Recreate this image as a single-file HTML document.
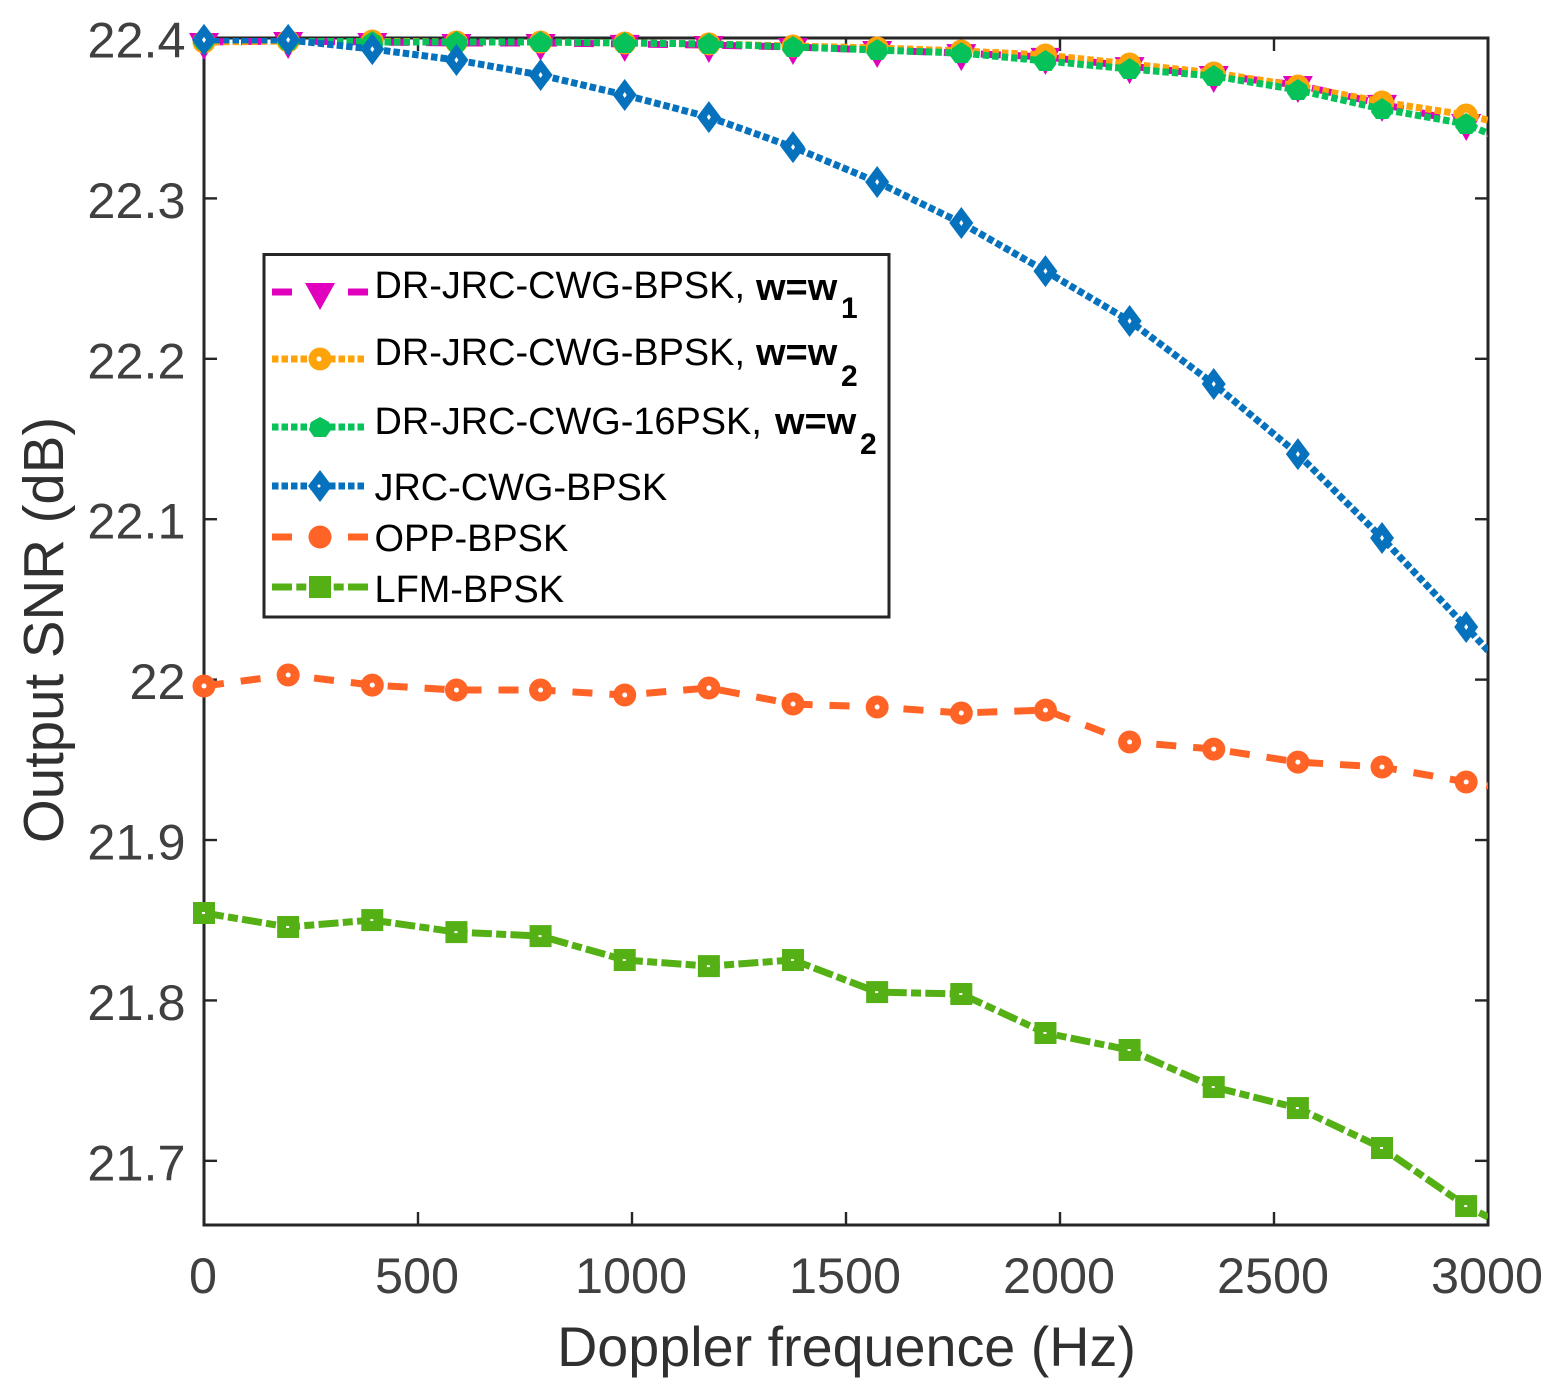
<!DOCTYPE html>
<html lang="en">
<head>
<meta charset="utf-8">
<title>Output SNR vs Doppler frequence</title>
<style>
html,body{margin:0;padding:0;background:#fff;}
svg{display:block;font-family:"Liberation Sans",Arial,sans-serif;}
.tick-text{font-size:50.4px;fill:#404040;}
.axis-title{font-size:55.7px;fill:#303030;}
.y-title{font-size:56.4px;fill:#303030;}
.leg{font-size:37.9px;fill:#000;}
.legb{font-size:38px;fill:#000;font-weight:bold;}
.legs{font-size:30px;fill:#000;font-weight:bold;}
</style>
</head>
<body>
<svg id="chart" xmlns="http://www.w3.org/2000/svg" width="1556" height="1400" viewBox="0 0 1556 1400">
  <defs>
    <clipPath id="plot-clip"><rect x="204" y="38" width="1284" height="1187"/></clipPath>
  </defs>
  <rect x="0" y="0" width="1556" height="1400" fill="#fff"/>
  <g id="axes-layer"></g>
  <g id="series-layer"></g>
  <text class="axis-title" x="846.500" y="1366" text-anchor="middle">Doppler frequence (Hz)</text>
  <text class="y-title" transform="translate(63,630) rotate(-90)" text-anchor="middle">Output SNR (dB)</text>
  <g id="legend">
    <rect x="264" y="254.500" width="625" height="362.500" fill="#fff" stroke="#262626" stroke-width="3"/>
    <g>
      <path d="M272 292H368" stroke="#e000bd" stroke-width="7" stroke-dasharray="20 56 20" fill="none"/>
      <path d="M305 283H335L320 310Z" fill="#e000bd"/>
      <text class="leg" x="374.500" y="298">DR-JRC-CWG-BPSK,</text>
      <text class="legb" x="756" y="300">w=w</text><text class="legs" x="841" y="318">1</text>
    </g>
    <g>
      <path d="M272 359H364" stroke="#ffa30a" stroke-width="7" stroke-dasharray="6.500 3" fill="none"/>
      <circle cx="320" cy="359" r="11.500" fill="#ffa30a"/><circle cx="319" cy="359" r="2.500" fill="#fff"/>
      <text class="leg" x="374.500" y="365">DR-JRC-CWG-BPSK,</text>
      <text class="legb" x="756" y="365">w=w</text><text class="legs" x="841" y="386">2</text>
    </g>
    <g>
      <path d="M272 427H364" stroke="#06c258" stroke-width="7" stroke-dasharray="6.500 3" fill="none"/>
      <path d="M320 417L329 422L331 430L326 437H314L309 430L311 422Z" fill="#06c258"/>
      <text class="leg" x="374.500" y="434">DR-JRC-CWG-16PSK,</text>
      <text class="legb" x="775" y="434">w=w</text><text class="legs" x="860" y="454">2</text>
    </g>
    <g>
      <path d="M272 486H364" stroke="#0672bd" stroke-width="7" stroke-dasharray="6.500 3" fill="none"/>
      <path d="M320 470L332 486L320 502L308 486Z" fill="#0672bd"/>
      <circle cx="319" cy="486" r="1.500" fill="#fff"/>
      <text class="leg" x="374.500" y="500">JRC-CWG-BPSK</text>
    </g>
    <g>
      <path d="M272 537H368" stroke="#ff6326" stroke-width="7" stroke-dasharray="20 56 20" fill="none"/>
      <circle cx="320" cy="537" r="11.500" fill="#ff6326"/>
      <text class="leg" x="374.500" y="551">OPP-BPSK</text>
    </g>
    <g>
      <path d="M272 587H368" stroke="#54b014" stroke-width="7" stroke-dasharray="20 4.300 10 27.400 10 4.300 20" fill="none"/>
      <rect x="309" y="576" width="22" height="22" fill="#54b014"/>
      <text class="leg" x="374.500" y="602">LFM-BPSK</text>
    </g>
  </g>
</svg>
<script>
const frequencies = [0,196.6,393.2,589.8,786.4,983,1179.6,1376.2,1572.8,1769.4,1966,2162.6,2359.2,2555.8,2752.4,2949,3145.6];
const xTickValues = [0,500,1000,1500,2000,2500,3000];
const xTickLabels = ['0','500','1000','1500','2000','2500','3000'];
const yTickValues = [21.7,21.8,21.9,22,22.1,22.2,22.3,22.4];
const yTickLabels = ['21.7','21.8','21.9','22','22.1','22.2','22.3','22.4'];
const drBpskW1 = [22.3975,22.3981,22.3975,22.3969,22.3969,22.3963,22.3956,22.3944,22.3925,22.3906,22.3882,22.3825,22.3769,22.3707,22.3589,22.347,22.3333];
const drBpskW2 = [22.3975,22.3981,22.3981,22.3975,22.3975,22.3969,22.3963,22.395,22.3938,22.3919,22.3894,22.3838,22.3782,22.3701,22.3601,22.352,22.3395];
const dr16pskW2 = [22.3988,22.3988,22.3975,22.3975,22.3975,22.3969,22.3963,22.3944,22.3925,22.3906,22.3857,22.3807,22.3763,22.3676,22.3557,22.3464,22.324];
const jrcBpsk = [22.3988,22.3988,22.3931,22.3863,22.3769,22.3645,22.3507,22.332,22.3102,22.2847,22.2547,22.2236,22.1843,22.1406,22.0883,22.0328,21.9761];
const oppBpsk = [21.996,22.0029,21.9966,21.9935,21.9935,21.9904,21.9948,21.9848,21.9829,21.9792,21.981,21.9611,21.9567,21.9486,21.9455,21.9362,21.9268];
const lfmBpsk = [21.8545,21.8458,21.8501,21.8426,21.8401,21.8252,21.8214,21.8252,21.8052,21.804,21.7797,21.7691,21.746,21.7329,21.708,21.6718,21.6456];

const NS = 'http://www.w3.org/2000/svg';
const LEFT = 204, RIGHT = 1488, TOP = 38, BOTTOM = 1225;
const X_MAX = 3000, Y_MAX = 22.4, Y_MIN = 21.66;
function xScale(v){ return LEFT + (v / X_MAX) * (RIGHT - LEFT); }
function yScale(v){ return TOP + (Y_MAX - v) / (Y_MAX - Y_MIN) * (BOTTOM - TOP); }
function make(tag, attrs, parent){
  const el = document.createElementNS(NS, tag);
  for (const k in attrs) el.setAttribute(k, attrs[k]);
  parent.appendChild(el);
  return el;
}
const axesLayer = document.getElementById('axes-layer');
const seriesLayer = document.getElementById('series-layer');
const AXIS = '#262626';

const plotBox = make('rect', {x:LEFT, y:TOP, width:RIGHT-LEFT, height:BOTTOM-TOP, fill:'none', stroke:AXIS, 'stroke-width':3}, axesLayer);



xTickValues.forEach(function(v, i){
  const x = xScale(v);
  const t1 = make('path', {d:'M'+x+' '+BOTTOM+'V'+(BOTTOM-13), stroke:AXIS, 'stroke-width':2.4}, axesLayer);
  
  
  const t2 = make('path', {d:'M'+x+' '+TOP+'V'+(TOP+13), stroke:AXIS, 'stroke-width':2.4}, axesLayer);
  
  
  const lab = make('text', {x:x-1, y:1293, 'text-anchor':'middle', 'class':'tick-text'}, axesLayer);
  lab.textContent = xTickLabels[i];
  
  
});
yTickValues.forEach(function(v, i){
  const y = yScale(v);
  const t1 = make('path', {d:'M'+LEFT+' '+y+'H'+(LEFT+13), stroke:AXIS, 'stroke-width':2.4}, axesLayer);
  
  
  const t2 = make('path', {d:'M'+RIGHT+' '+y+'H'+(RIGHT-13), stroke:AXIS, 'stroke-width':2.4}, axesLayer);
  
  
  const lab = make('text', {x:185.5, y:y+19.5, 'text-anchor':'end', 'class':'tick-text'}, axesLayer);
  lab.textContent = yTickLabels[i];
  
  
});

function drawTriangle(g, x, y, c){
  make('path', {d:'M'+(x-15)+' '+(y-9)+'H'+(x+15)+'L'+x+' '+(y+18)+'Z', fill:c}, g);
}
function drawCircle(g, x, y, c){
  make('circle', {cx:x, cy:y, r:11.5, fill:c}, g);
  make('circle', {cx:x, cy:y, r:2.5, fill:'#fff'}, g);
}
function drawBlob(g, x, y, c){
  make('path', {d:'M'+x+' '+(y-11)+'L'+(x+9)+' '+(y-5)+'L'+(x+11)+' '+(y+3)+'L'+(x+6)+' '+(y+10)+'H'+(x-6)+'L'+(x-11)+' '+(y+3)+'L'+(x-9)+' '+(y-5)+'Z', fill:c}, g);
}
function drawDiamond(g, x, y, c){
  make('path', {d:'M'+x+' '+(y-16)+'L'+(x+12)+' '+y+'L'+x+' '+(y+16)+'L'+(x-12)+' '+y+'Z', fill:c}, g);
  make('path', {d:'M'+x+' '+(y-3)+'L'+(x+2)+' '+y+'L'+x+' '+(y+3)+'L'+(x-2)+' '+y+'Z', fill:'#fff'}, g);
}
function drawSquare(g, x, y, c){
  make('rect', {x:x-11, y:y-11, width:22, height:22, fill:c}, g);
  make('rect', {x:x-2, y:y-1, width:3, height:2, fill:'#fff'}, g);
}
function drawSeries(name, values, color, dash, marker){
  const g = make('g', {}, seriesLayer);
  
  
  const pts = values.map(function(v, i){ return xScale(frequencies[i]) + ',' + yScale(v); }).join(' ');
  const line = make('polyline', {points:pts, fill:'none', stroke:color, 'stroke-width':7, 'stroke-dasharray':dash, 'stroke-linejoin':'round', 'clip-path':'url(#plot-clip)'}, g);
  
  
  values.forEach(function(v, i){
    if (frequencies[i] > X_MAX) return;
    const m = make('g', {}, g);
    
    
    marker(m, xScale(frequencies[i]), yScale(v), color);
  });
}
drawSeries('series-dr-bpsk-w1', drBpskW1, '#e000bd', '20 17', drawTriangle);
drawSeries('series-dr-bpsk-w2', drBpskW2, '#ffa30a', '6.5 3', drawCircle);
drawSeries('series-dr-16psk-w2', dr16pskW2, '#06c258', '6.5 3', drawBlob);
drawSeries('series-jrc-bpsk', jrcBpsk, '#0672bd', '6.5 3', drawDiamond);
drawSeries('series-opp-bpsk', oppBpsk, '#ff6326', '20 17', drawCircle);
drawSeries('series-lfm-bpsk', lfmBpsk, '#54b014', '20 4.3 10 4.3', drawSquare);
</script>
</body>
</html>
